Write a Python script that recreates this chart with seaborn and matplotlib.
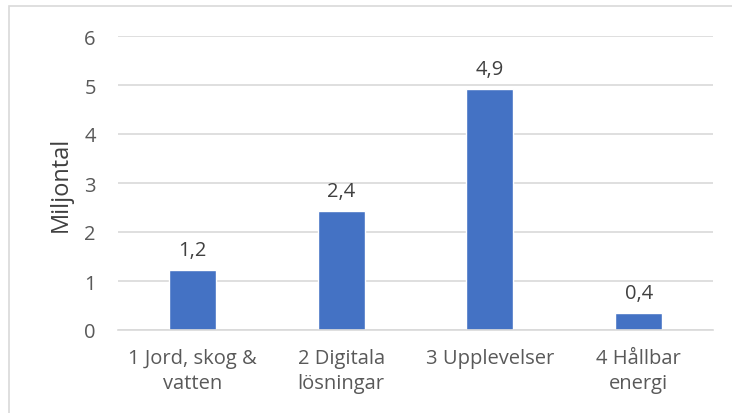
import matplotlib
matplotlib.use("Agg")
import matplotlib.pyplot as plt
import seaborn as sns
import pandas as pd

# Daten
kategorier = ["1 Jord, skog &\nvatten", "2 Digitala\nlösningar", "3 Upplevelser", "4 Hållbar\nenergi"]
varden = [1.22, 2.43, 4.92, 0.35]
etiketter = ["1,2", "2,4", "4,9", "0,4"]

df = pd.DataFrame({"kategori": kategorier, "varde": varden})

sns.set_theme(style="white")
plt.rcParams["font.family"] = ["Open Sans", "DejaVu Sans"]

fig = plt.figure(figsize=(7.32, 4.14), dpi=100)
ax = fig.add_axes([118 / 732, 1 - 331 / 414, (713 - 118) / 732, (331 - 37) / 414])

sns.barplot(data=df, x="kategori", y="varde", color="#4472C4", width=0.315, saturation=1, ax=ax)

# Werte über den Balken
for i, (v, t) in enumerate(zip(varden, etiketter)):
    ax.text(i, v + 0.2, t, ha="center", va="bottom", fontsize=14.5, color="#404040")

ax.set_xlim(-0.5, 3.5)
ax.set_ylim(0, 6)
ax.set_yticks(range(0, 7))
ax.yaxis.grid(True, color="#D9D9D9", linewidth=1.2)
ax.set_axisbelow(True)
for s in ["top", "right", "left"]:
    ax.spines[s].set_visible(False)
ax.spines["bottom"].set_color("#D9D9D9")
ax.spines["bottom"].set_linewidth(1.2)
ax.tick_params(axis="x", length=0, labelsize=14.5, colors="#595959", pad=13)
ax.tick_params(axis="y", length=0, labelsize=14.5, colors="#595959", pad=16)
for lbl in ax.get_xticklabels():
    lbl.set_linespacing(1.3)
ax.set_xlabel("")
ax.set_ylabel("Miljontal", fontsize=17, color="#404040", labelpad=8)

# Rahmen (links und oben sichtbar)
fig.patches.append(plt.Rectangle((9 / 732, -0.1), 1.2, 1.1 - 7 / 414, transform=fig.transFigure,
                                 fill=False, edgecolor="#D9D9D9", linewidth=1.2))

plt.savefig("out.png", dpi=100)
